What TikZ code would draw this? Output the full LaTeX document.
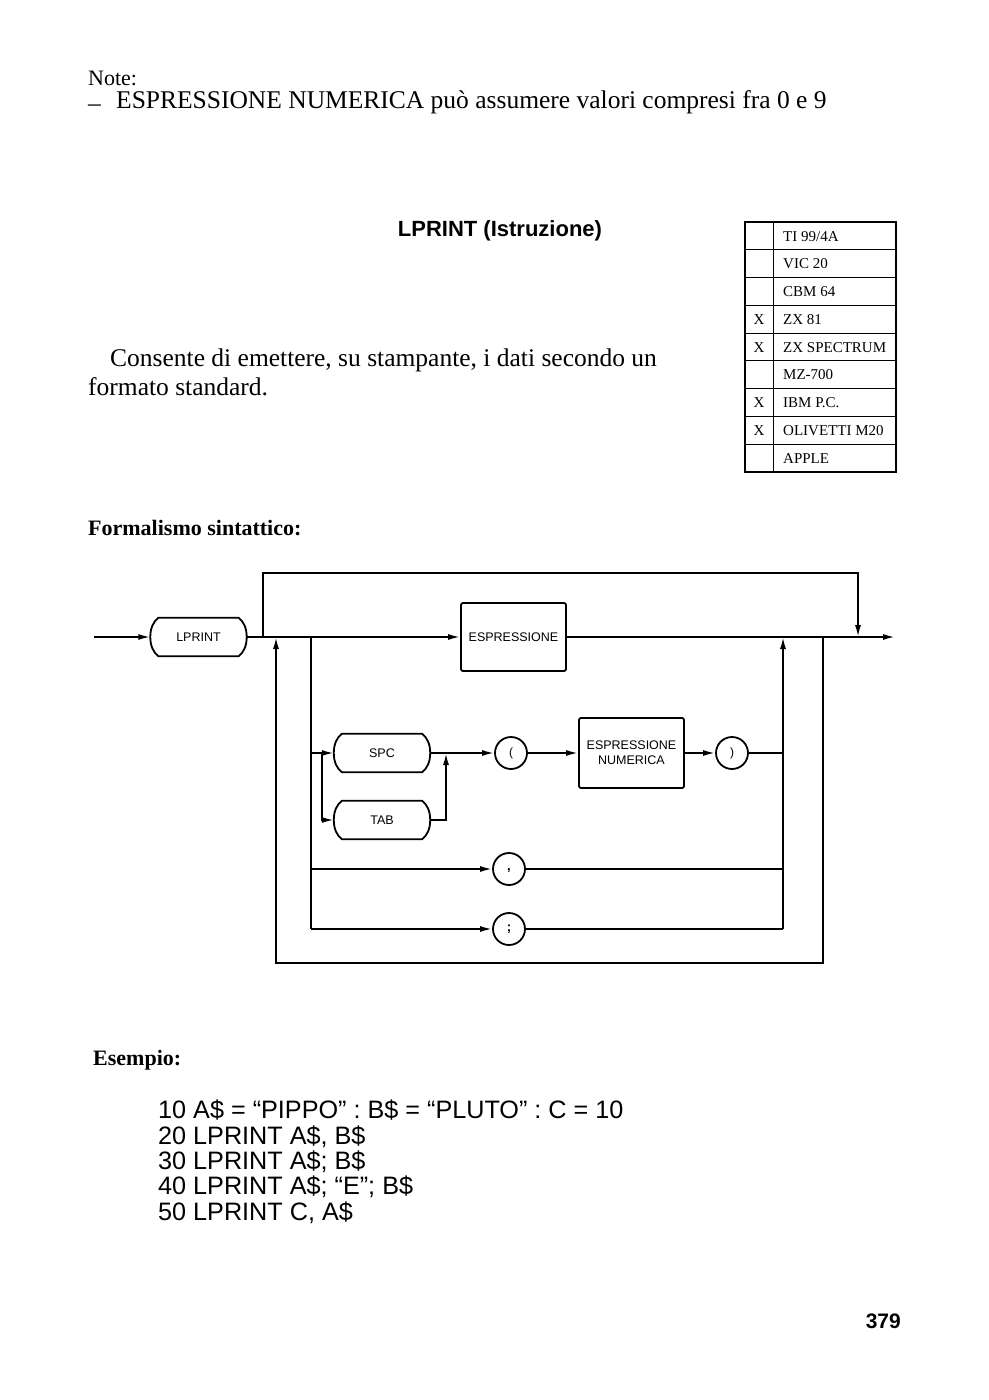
\documentclass[tikz,border=0pt]{standalone}
\usepackage{fontspec}
\setmainfont{Liberation Serif}
\setsansfont{Liberation Sans}
\usetikzlibrary{arrows.meta,calc}

\tikzset{
  ln/.style={line width=1.8pt},
  arr/.style={ln,-{Latex[length=12pt,width=6pt]}},
  termnode/.style={minimum width=96pt,minimum height=38pt,inner sep=0pt,font=\sffamily\fontsize{12.5}{12.5}\selectfont},
  boxnode/.style={draw,ln,rounded corners=2pt,minimum width=105pt,inner sep=0pt,align=center,font=\sffamily\fontsize{12.5}{15}\selectfont},
  circnode/.style={draw,ln,circle,minimum size=32pt,inner sep=0pt,font=\sffamily\fontsize{12}{12}\selectfont},
  serif/.style={anchor=base west,inner sep=0pt,font=\fontsize{25.5}{25.5}\selectfont},
  serifb/.style={anchor=base west,inner sep=0pt,font=\bfseries\fontsize{22}{22}\selectfont},
  code/.style={anchor=base west,inner sep=0pt,font=\sffamily\fontsize{25.2}{25.2}\selectfont},
  tabtxt/.style={anchor=base west,inner sep=0pt,font=\fontsize{15}{15}\selectfont},
  tabx/.style={anchor=base,inner sep=0pt,font=\fontsize{15}{15}\selectfont},
}

\newcommand\termoutline[1]{%
  \draw[ln] ([xshift=8pt]#1.north west) -- ([xshift=-8pt]#1.north east)
    .. controls +(5,-4) and +(0,9) .. (#1.east)
    .. controls +(0,-9) and +(5,4) .. ([xshift=-8pt]#1.south east)
    -- ([xshift=8pt]#1.south west)
    .. controls +(-5,4) and +(0,-9) .. (#1.west)
    .. controls +(0,9) and +(-5,-4) .. ([xshift=8pt]#1.north west) -- cycle;}

\begin{document}
\begin{tikzpicture}[x=1pt,y=1pt]
\useasboundingbox (0,0) rectangle (988,-1400);
\fill[white] (0,0) rectangle (988,-1400);

% header notes
\node[anchor=base west,inner sep=0pt,font=\fontsize{22}{22}\selectfont] (note) at (88,-85) {Note:};
\node[anchor=base west,inner sep=0pt,font=\fontsize{25.5}{25.5}\selectfont] (dash) at (88,-111) {–};
\node[serif] (notetext) at (116,-108) {ESPRESSIONE NUMERICA può assumere valori compresi fra 0 e 9};

% title
\node[anchor=base,inner sep=0pt,font=\sffamily\bfseries\fontsize{22}{22}\selectfont] (title) at (500,-236) {LPRINT (Istruzione)};

\node[serif] (desc1) at (110,-366) {Consente di emettere, su stampante, i dati secondo un};
\node[serif] (desc2) at (88,-395) {formato standard.};

% table
\draw[line width=1.6pt] (745,-222) rectangle (896,-472);
\draw[line width=0.9pt] (773,-222) -- (773,-472);
\foreach \i in {1,...,8} {
  \pgfmathsetmacro\yy{-222-27.78*\i}
  \draw[line width=0.9pt] (745,\yy) -- (896,\yy);
}
\foreach \t [count=\i] in {TI 99/4A,VIC 20,CBM 64,ZX 81,ZX SPECTRUM,MZ-700,IBM P.C.,OLIVETTI M20,APPLE} {
  \pgfmathsetmacro\yy{-222-27.78*(\i-1)-19}
  \node[tabtxt] (row\i) at (783,\yy) {\t};
}
\foreach \i in {4,5,7,8} {
  \pgfmathsetmacro\yy{-222-27.78*(\i-1)-19}
  \node[tabx] (x\i) at (759,\yy) {X};
}

\node[serifb] (formal) at (88,-535) {Formalismo sintattico:};

% syntax diagram
\node[termnode] (lprint) at (198.5,-637) {LPRINT};
\termoutline{lprint}
\node[boxnode,minimum height=68pt] (esp) at (513.5,-637) {ESPRESSIONE};
\node[termnode] (spc) at (382,-753) {SPC};
\termoutline{spc}
\node[termnode] (tab) at (382,-820) {TAB};
\termoutline{tab}
\node[circnode] (lp) at (511,-753) {(};
\node[boxnode,minimum height=70pt] (espnum) at (631.5,-753) {ESPRESSIONE\\NUMERICA};
\node[circnode] (rp) at (732,-753) {)};
\node[circnode,font=\sffamily\bfseries\fontsize{13}{13}\selectfont] (comma) at (509,-869) {\raisebox{-4pt}{,}};
\node[circnode,font=\sffamily\bfseries\fontsize{13}{13}\selectfont] (semi) at (509,-929) {\raisebox{-2pt}{;}};

\coordinate (start) at (94,-637);
\coordinate (exit) at (895,-637);
\coordinate (byA) at (263,-637);
\coordinate (byB) at (858,-637);
\coordinate (loopL) at (276,-637);
\coordinate (loopR) at (823,-637);
\coordinate (brL) at (311,-637);
\coordinate (brLb) at (311,-929);
\coordinate (colR) at (783,-637);
\coordinate (colRb) at (783,-929);
\coordinate (tabL) at (322,-753);
\coordinate (tabJ) at (446,-753);

\draw[arr] (start) -- (lprint.west);
\draw[arr] (lprint.east) -- (esp.west);
\draw[arr] (byA) -- ++(0,64) -| (byB);
\draw[arr] (esp.east) -- (exit);
\draw[ln] (brL) -- (brLb);
\draw[arr] (brL |- spc) -- (spc.west);
\draw[arr] (tabL) |- (tab.west);
\draw[arr] (tab.east) -| (tabJ);
\draw[arr] (spc.east) -- (lp.west);
\draw[arr] (lp.east) -- (espnum.west);
\draw[arr] (espnum.east) -- (rp.west);
\draw[ln] (rp.east) -- (colR |- rp);
\draw[arr] (brL |- comma) -- (comma.west);
\draw[ln] (comma.east) -- (colR |- comma);
\draw[arr] (brLb) -- (semi.west);
\draw[ln] (semi.east) -- (colRb);
\draw[arr] (colRb) -- (colR);
\draw[arr] (loopR) -- ++(0,-326) -| (loopL);

% example
\node[serifb] (esempio) at (93,-1065) {Esempio:};
\node[code] (c1) at (158,-1118) {10 A\$ = “PIPPO” : B\$ = “PLUTO” : C = 10};
\node[code] (c2) at (158,-1144) {20 LPRINT A\$, B\$};
\node[code] (c3) at (158,-1169) {30 LPRINT A\$; B\$};
\node[code] (c4) at (158,-1194) {40 LPRINT A\$; “E”; B\$};
\node[code] (c5) at (158,-1220) {50 LPRINT C, A\$};

\node[anchor=base east,inner sep=0pt,font=\sffamily\bfseries\fontsize{21}{21}\selectfont] (page) at (901,-1328) {379};
\end{tikzpicture}
\end{document}
